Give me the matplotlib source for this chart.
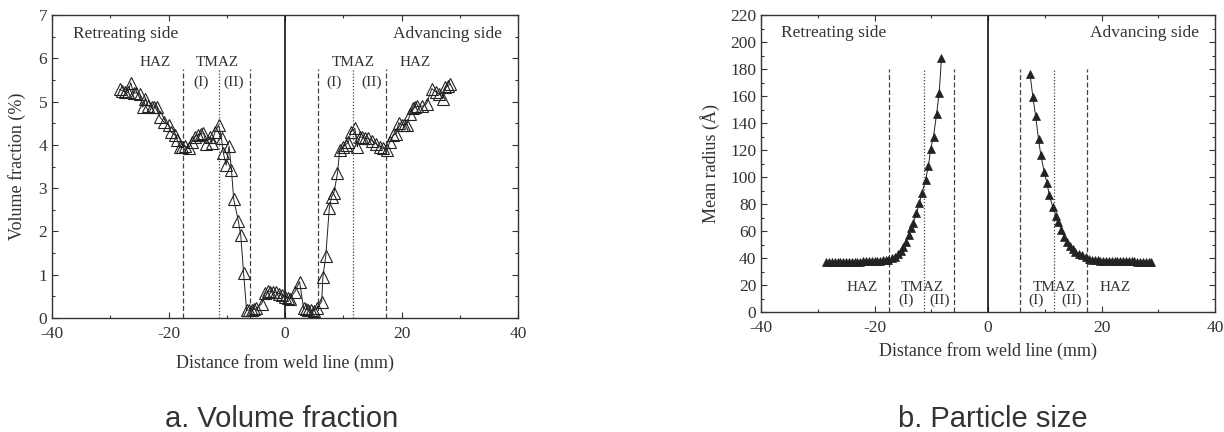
import matplotlib
matplotlib.use("Agg")
import matplotlib.pyplot as plt
from matplotlib.ticker import MultipleLocator

plt.rcParams['font.family'] = ['Liberation Serif', 'DejaVu Serif']
plt.rcParams['axes.unicode_minus'] = False

TXT = '#333333'

# (a) volume fraction (%) vs distance from weld line (mm)
vf_x = [-28.4, -27.9, -27.4, -26.9, -26.5, -26.0, -25.5, -24.9, -24.4, -24.0,
        -23.5, -22.9, -22.5, -22.0, -21.5, -20.8, -20.0, -19.6, -18.9, -18.5,
        -18.0, -17.6, -17.1, -16.5, -16.0, -15.5, -14.9, -14.4, -14.0, -13.5,
        -12.9, -12.6, -12.0, -11.4, -10.9, -10.6, -10.1, -9.6, -9.2, -8.8,
        -8.0, -7.6, -7.1, -6.6, -6.1, -5.7, -5.3, -4.9, -4.0, -3.4,
        -2.9, -2.5, -2.0, -1.5, -1.0, -0.5, 0.0, 0.5, 0.9, 1.7,
        2.5, 3.2, 3.6, 4.0, 4.5, 4.9, 5.5, 6.3, 6.5, 7.0,
        7.6, 8.0, 8.4, 9.0, 9.4, 10.0, 10.4, 10.9, 11.3, 12.0,
        12.4, 12.9, 13.3, 13.7, 14.3, 14.9, 15.6, 16.3, 16.9, 17.5,
        18.0, 18.6, 19.1, 19.5, 20.0, 20.5, 20.9, 21.5, 22.0, 22.4,
        22.7, 23.5, 24.3, 25.2, 25.9, 26.5, 27.1, 27.5, 27.9, 28.3]
vf_y = [5.28, 5.25, 5.23, 5.21, 5.44, 5.20, 5.20, 5.17, 4.87, 5.07,
        4.90, 4.88, 4.87, 4.88, 4.65, 4.53, 4.46, 4.30, 4.23, 4.11,
        3.94, 3.94, 3.97, 3.92, 4.07, 4.19, 4.23, 4.25, 4.28, 4.03,
        4.19, 4.05, 4.30, 4.46, 4.15, 3.82, 3.53, 3.97, 3.43, 2.74,
        2.23, 1.92, 1.03, 0.18, 0.18, 0.19, 0.20, 0.22, 0.33, 0.57,
        0.62, 0.61, 0.60, 0.59, 0.56, 0.53, 0.49, 0.47, 0.45, 0.61,
        0.84, 0.22, 0.20, 0.18, 0.18, 0.17, 0.22, 0.38, 0.95, 1.43,
        2.53, 2.80, 2.89, 3.34, 3.89, 3.95, 4.00, 4.07, 4.30, 4.38,
        3.95, 4.19, 4.17, 4.15, 4.15, 4.10, 4.03, 3.95, 3.92, 3.88,
        4.07, 4.22, 4.26, 4.51, 4.46, 4.47, 4.46, 4.72, 4.84, 4.87,
        4.89, 4.89, 4.95, 5.30, 5.22, 5.17, 5.07, 5.33, 5.36, 5.40]

# (b) mean radius (Angstrom), retreating and advancing sides
rs_x = [-28.5, -28.0, -27.5, -27.0, -26.5, -26.0, -25.5, -25.0, -24.5, -24.0,
        -23.5, -23.0, -22.5, -22.0, -21.5, -21.0, -20.5, -20.0, -19.5, -19.0,
        -18.5, -18.0, -17.6, -17.0, -16.4, -15.9, -15.4, -14.9, -14.5, -14.0,
        -13.6, -13.2, -12.6, -12.1, -11.6, -11.0, -10.5, -10.1, -9.6, -9.05,
        -8.6, -8.2]
rs_y = [37.0, 37.0, 37.1, 37.1, 37.1, 37.2, 37.2, 37.2, 37.3, 37.3,
        37.3, 37.4, 37.4, 37.5, 37.5, 37.6, 37.7, 37.8, 37.9, 38.0,
        38.2, 38.4, 38.6, 39.8, 41.0, 43.0, 45.5, 48.5, 52.0, 57.0,
        62.0, 66.0, 73.0, 80.5, 88.4, 97.8, 108.0, 121.0, 130.0, 147.0,
        162.5, 188.0]
as_x = [7.4, 7.9, 8.4, 8.9, 9.3, 9.9, 10.4, 10.8, 11.4, 12.0,
        12.4, 12.9, 13.4, 13.9, 14.4, 15.0, 15.4, 16.0, 16.6, 17.2,
        17.8, 18.3, 18.8, 19.3, 19.8, 20.3, 20.8, 21.3, 21.8, 22.3,
        22.8, 23.3, 23.8, 24.3, 24.8, 25.3, 25.8, 26.3, 26.8, 27.3,
        27.8, 28.3, 28.8]
as_y = [176.3, 159.5, 145.0, 128.0, 116.3, 104.0, 95.3, 86.7, 78.0, 71.1,
        66.9, 60.7, 55.8, 52.0, 49.0, 46.7, 44.7, 43.0, 41.9, 40.7,
        39.5, 38.8, 38.4, 38.2, 38.0, 37.9, 37.8, 37.8, 37.7, 37.7,
        37.6, 37.6, 37.6, 37.5, 37.5, 37.5, 37.5, 37.4, 37.4, 37.4,
        37.4, 37.3, 37.3]

# zone boundaries (mm)
dashed_x = [-17.5, -6.0, 5.6, 17.4]
dotted_x = [-11.3, 11.7]

fig = plt.figure(figsize=(12.24, 4.32), dpi=100)
ax1 = fig.add_axes([52/1224, 1-318/432, (518-52)/1224, (318-15)/432])
ax2 = fig.add_axes([761/1224, 1-312/432, (1215-761)/1224, (312-15)/432])


def style(ax):
    for s in ax.spines.values():
        s.set_color('#333333')
        s.set_linewidth(1.0)
    ax.tick_params(which='both', direction='in', top=True, right=True,
                   colors='#333333', labelcolor=TXT, labelsize=12.5)
    ax.tick_params(which='major', length=4.5, width=0.8)
    ax.tick_params(which='minor', length=2.5, width=0.8)
    ax.tick_params(axis='x', pad=6)
    ax.set_xlim(-40, 40)
    ax.xaxis.set_major_locator(MultipleLocator(20))
    ax.xaxis.set_minor_locator(MultipleLocator(10))
    ax.axvline(0, color='#111111', lw=1.2)


# ---- (a) ----
style(ax1)
ax1.set_ylim(0, 7)
ax1.yaxis.set_major_locator(MultipleLocator(1))
ax1.yaxis.set_minor_locator(MultipleLocator(0.5))
for xv in dashed_x:
    ax1.plot([xv, xv], [0, 5.75], color='#444444', lw=0.9, ls=(0, (4, 2)))
for xv in dotted_x:
    ax1.plot([xv, xv], [0, 5.75], color='#444444', lw=0.9, ls=(0, (1, 1.5)))
ax1.plot(vf_x, vf_y, color='#222222', lw=0.7, marker='^', ms=8,
         mfc='none', mec='#222222', mew=0.8)

ax1.text(-36.4, 6.56, 'Retreating side', fontsize=12.5, color=TXT, va='center')
ax1.text(37.3, 6.56, 'Advancing side', fontsize=12.5, color=TXT, va='center', ha='right')
for lab, xv, yv in [('HAZ', -22.3, 5.9), ('TMAZ', -11.6, 5.9), ('(I)', -14.4, 5.45),
                    ('(II)', -8.9, 5.45), ('TMAZ', 11.7, 5.9), ('(I)', 8.4, 5.45),
                    ('(II)', 14.8, 5.45), ('HAZ', 22.3, 5.9)]:
    ax1.text(xv, yv, lab, fontsize=11, color=TXT, ha='center', va='center')

ax1.set_xlabel('Distance from weld line (mm)', fontsize=13, color=TXT)
ax1.set_ylabel('Volume fraction (%)', fontsize=13, color=TXT)
ax1.xaxis.set_label_coords(0.5, -0.12)
ax1.yaxis.set_label_coords(-0.056, 0.5)

# ---- (b) ----
style(ax2)
ax2.set_ylim(0, 220)
ax2.yaxis.set_major_locator(MultipleLocator(20))
ax2.yaxis.set_minor_locator(MultipleLocator(10))
for xv in dashed_x:
    ax2.plot([xv, xv], [0, 180], color='#444444', lw=0.9, ls=(0, (4, 2)))
for xv in dotted_x:
    ax2.plot([xv, xv], [0, 180], color='#444444', lw=0.9, ls=(0, (1, 1.5)))
ax2.plot(rs_x, rs_y, color='#222222', lw=0.7, marker='^', ms=6,
         mfc='#222222', mec='#222222', mew=0.5)
ax2.plot(as_x, as_y, color='#222222', lw=0.7, marker='^', ms=6,
         mfc='#222222', mec='#222222', mew=0.5)

ax2.text(-36.5, 206.5, 'Retreating side', fontsize=12.5, color=TXT, va='center')
ax2.text(37.2, 206.5, 'Advancing side', fontsize=12.5, color=TXT, va='center', ha='right')
for lab, xv, yv in [('HAZ', -22.2, 18.5), ('TMAZ', -11.5, 18.5), ('(I)', -14.4, 8.9),
                    ('(II)', -8.6, 8.9), ('TMAZ', 11.6, 18.5), ('(I)', 8.5, 8.9),
                    ('(II)', 14.8, 8.9), ('HAZ', 22.4, 18.5)]:
    ax2.text(xv, yv, lab, fontsize=11, color=TXT, ha='center', va='center')

ax2.set_xlabel('Distance from weld line (mm)', fontsize=13, color=TXT)
ax2.set_ylabel('Mean radius (\u00c5)', fontsize=13, color=TXT)
ax2.xaxis.set_label_coords(0.5, -0.1)
ax2.yaxis.set_label_coords(-0.09, 0.5)

# captions
cap_font = ['Liberation Sans Narrow', 'Liberation Sans', 'DejaVu Sans']
fig.text(282/1224, 1-427/432, 'a. Volume fraction', family=cap_font,
         fontsize=21, color=TXT, ha='center', va='baseline')
fig.text(993/1224, 1-427/432, 'b. Particle size', family=cap_font,
         fontsize=21, color=TXT, ha='center', va='baseline')

fig.savefig('out.png', dpi=100)
